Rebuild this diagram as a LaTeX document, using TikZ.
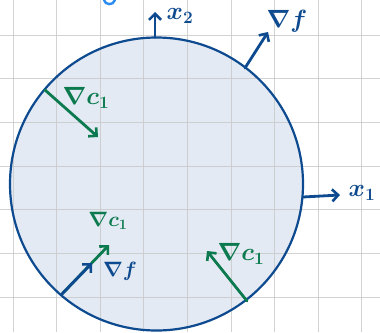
\documentclass[tikz,border=0pt]{standalone}
\usetikzlibrary{arrows.meta}
\definecolor{dblue}{HTML}{0D4A8F}
\definecolor{dgreen}{HTML}{0B7A4E}
\definecolor{lblue}{HTML}{2A8CF0}
\definecolor{cfill}{HTML}{E3EAF3}
\definecolor{gridc}{HTML}{C8C8C8}
\begin{document}
\begin{tikzpicture}[x=1pt,y=-1pt,
  gridline/.style={gridc,line width=1pt,opacity=0.8},
  vec/.style={line width=2.8pt,line cap=round,-{Straight Barb[length=6pt,width=12pt,line width=2.6pt]}},
  bluevec/.style={vec,dblue},
  greenvec/.style={vec,dgreen},
  biglab/.style={inner sep=0pt,font=\fontsize{25}{28}\selectfont\boldmath},
  smalllab/.style={inner sep=0pt,font=\fontsize{20}{22}\selectfont\boldmath}]
\useasboundingbox (0,0) rectangle (380,332);
\fill[white] (0,0) rectangle (380,332);
% circle fill
\fill[cfill] (156.5,184) circle (146.5);
% grid
\foreach \gx in {13,56.6,100.2,143.8,187.4,231,274.6,318.2,361.8}
  \draw[gridline] (\gx,0) -- (\gx,332);
\foreach \gy in {35,78.7,122.4,166.1,209.8,253.5,297.2}
  \draw[gridline] (0,\gy) -- (380,\gy);
% circle border
\draw[dblue,line width=2.2pt] (156.5,184) circle (146.5);
% partial blue glyph at top
\draw[lblue,line width=2.4pt,line cap=round] (104,0) .. controls (105,5) and (113,6) .. (115,0);
% anchor points
\coordinate (top) at (155,37.5);
\coordinate (x2tip) at (155,12);
\coordinate (ftop) at (245,68);
\coordinate (ftip) at (268,32);
\coordinate (right) at (303,197);
\coordinate (x1tip) at (340,195);
\coordinate (tl) at (45,90);
\coordinate (tltip) at (98,137);
\coordinate (bl) at (62,294);
\coordinate (blgtip) at (109,245);
\coordinate (blbtip) at (92,263);
\coordinate (br) at (247,301);
\coordinate (brtip) at (207,251);
% vectors
\draw[bluevec] (top) -- (x2tip);
\draw[bluevec] (ftop) -- (ftip);
\draw[bluevec] (right) .. controls (320,196) .. (x1tip);
\draw[greenvec] (tl) -- (tltip);
\draw[greenvec] (bl) -- (blgtip);
\draw[bluevec] (bl) -- (blbtip);
\draw[greenvec] (br) -- (brtip);
% labels
\node[biglab,dblue] (lx2) at (180,16) {$x_2$};
\node[biglab,dblue] (lf) at (287,21) {$\nabla f$};
\node[biglab,dblue] (lx1) at (362,193) {$x_1$};
\node[biglab,dgreen] (lc1a) at (86,98) {$\nabla c_1$};
\node[smalllab,dgreen] (lc1b) at (108,221) {$\nabla c_1$};
\node[biglab,dblue,font=\fontsize{21}{24}\selectfont\boldmath] (lf2) at (120,271) {$\nabla f$};
\node[biglab,dgreen] (lc1c) at (241,254) {$\nabla c_1$};
\end{tikzpicture}
\end{document}
